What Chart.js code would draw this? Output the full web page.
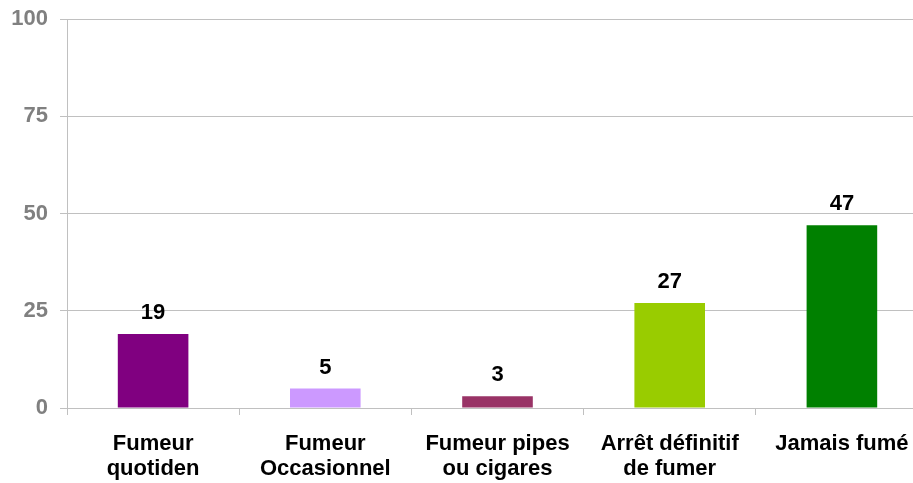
<!DOCTYPE html>
<html>
<head>
<meta charset="utf-8">
<script src="https://cdn.jsdelivr.net/npm/chart.js@4"></script>
<style>
  html, body { margin: 0; padding: 0; background: #fff; overflow: hidden; }
</style>
</head>
<body>
<!-- the plot area runs a little past the right edge in the original, so the canvas is wider than the window -->
<canvas id="smoking-chart" width="929" height="483"></canvas>
<script>
// categories and values
let categories = [
  ["Fumeur", "quotiden"],
  ["Fumeur", "Occasionnel"],
  ["Fumeur pipes", "ou cigares"],
  ["Arrêt définitif", "de fumer"],
  ["Jamais fumé"],
];
let percentages = [19, 5, 3, 27, 47];
let barColors = ["#800080", "#cc99ff", "#993366", "#99cc00", "#008000"];
let yTicks = [0, 25, 50, 75, 100];

let fontFamily = "'Liberation Sans', Arial, sans-serif";

// draws the number above each bar
let valueLabels = {
  id: "valueLabels",
  afterDatasetsDraw(chart) {
    let ctx = chart.ctx;
    let meta = chart.getDatasetMeta(0);
    ctx.save();
    ctx.font = "bold 22px " + fontFamily;
    ctx.fillStyle = "#000";
    ctx.textAlign = "center";
    ctx.textBaseline = "middle";
    meta.data.forEach(function (bar, i) {
      ctx.fillText(String(percentages[i]), bar.x, bar.y - 21);
    });
    ctx.restore();
  },
};

let context = document.querySelector("#smoking-chart").getContext("2d");

let smokingChart = new Chart(context, {
  type: "bar",
  data: {
    labels: categories,
    datasets: [
      {
        data: percentages,
        backgroundColor: barColors,
        categoryPercentage: 0.82,
        barPercentage: 0.5,
      },
    ],
  },
  options: {
    responsive: false,
    animation: false,
    layout: { padding: { top: 19, right: 1, left: 0, bottom: 0 } },
    plugins: {
      legend: { display: false },
      tooltip: { enabled: false },
    },
    scales: {
      x: {
        offset: true,
        grid: {
          offset: true,
          drawOnChartArea: false,
          drawTicks: true,
          tickLength: 7,
          color: "#c0c0c0",
        },
        border: { color: "#c0c0c0" },
        ticks: {
          color: "#000",
          padding: 16,
          maxRotation: 0,
          autoSkip: false,
          font: { family: fontFamily, size: 22, weight: "bold", lineHeight: 1.136 },
        },
        afterFit(scale) {
          scale.height = 75;
        },
      },
      y: {
        min: 0,
        max: 100,
        afterBuildTicks(scale) {
          scale.ticks = yTicks.map(function (v) { return { value: v }; });
        },
        grid: {
          color: "#c0c0c0",
          tickLength: 7,
        },
        border: { color: "#c0c0c0" },
        ticks: {
          color: "#808080",
          padding: 12,
          font: { family: fontFamily, size: 22, weight: "bold" },
        },
        afterFit(scale) {
          scale.width = 67;
          // let the layout padding alone decide where the plot starts
          scale.paddingTop = 0;
          scale.paddingBottom = 0;
        },
      },
    },
  },
  plugins: [valueLabels],
});
</script>
</body>
</html>
